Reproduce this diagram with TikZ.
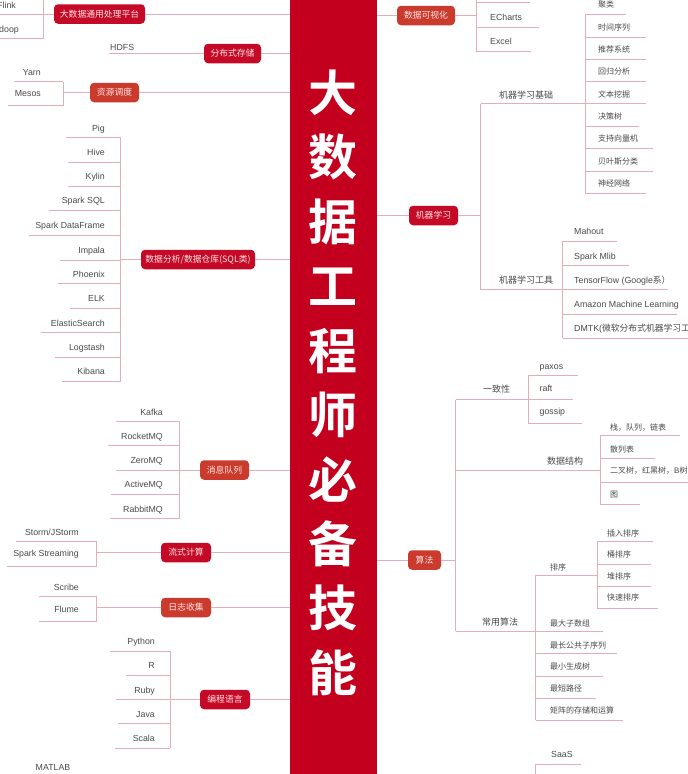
\documentclass[tikz,border=0pt]{standalone}
\usepackage{fontspec}
\setmainfont{Liberation Sans}
\newfontfamily\cjk{Noto Sans CJK SC}
\newfontfamily\cjkb{Noto Sans CJK SC Bold}
\definecolor{barred}{HTML}{C4001F}
\definecolor{hubred}{HTML}{C40A26}
\definecolor{hubsoft}{HTML}{CA3B2E}
\definecolor{wirec}{HTML}{E3AEB8}
\definecolor{txt}{HTML}{4A4A4A}
\tikzset{
  wire/.style={draw=wirec,line width=1pt},
  hubbase/.style={rounded corners=4pt,text=white!90!red,inner sep=0pt,minimum height=19.5pt,font=\cjk\fontsize{8.8}{10}\selectfont,anchor=center},
  hubd/.style={hubbase,fill=hubred},
  hubs/.style={hubbase,fill=hubsoft},
  lab/.style={text=txt,inner sep=0pt,text height=8pt,text depth=1.5pt,font=\fontsize{8.8}{10}\selectfont},
  small/.style={lab,font=\cjk\fontsize{8}{10}\selectfont},
  mid/.style={lab,font=\cjk\fontsize{9}{10}\selectfont},
  ttl/.style={text=white,inner sep=0pt,font=\cjkb\fontsize{49}{52}\selectfont}
}
% name, label style, anchor, text x, text y, text, free end x, line y, spine x
\newcommand\leafnode[9]{%
  \node[#2,anchor=#3] (#1) at (#4,#5) {#6};
  \coordinate (#1-a) at (#7,#8);
  \coordinate (#1-b) at (#9,#8);
  \draw[wire] (#1-a) -- (#1-b);
}
\newcommand\hubnode[5]{% name, style, cx, cy, width + text
  \node[#2,minimum width=#4pt] (#1) at (#3) {#5};
}
\begin{document}
\begin{tikzpicture}[x=1pt,y=-1pt]
\useasboundingbox (0,0) rectangle (688,774);
\clip (0,0) rectangle (688,774);
\fill[white] (0,0) rectangle (688,774);
\fill[barred] (290,0) rectangle (376.5,774);
\coordinate (barL) at (290,0);
\coordinate (barR) at (376.5,0);

\foreach \c/\y/\n in {大/93/t1,数/157/t2,据/222/t3,工/286.5/t4,程/351/t5,师/415/t6,必/479.5/t7,备/543.5/t8,技/608/t9,能/673/t10}
  \node[ttl] (\n) at (333.2,\y) {\c};

% ---- hubs
\hubnode{hA}{hubd}{99.5,14}{91}{大数据通用处理平台}
\hubnode{hB}{hubd}{232.5,53.5}{57}{分布式存储}
\hubnode{hC}{hubs}{114.5,92.5}{49}{资源调度}
\hubnode{hD}{hubd}{198,259.5}{114}{数据分析/数据仓库(SQL类)}
\hubnode{hE}{hubs}{224.5,470}{49}{消息队列}
\hubnode{hF}{hubd}{186,552.5}{50}{流式计算}
\hubnode{hG}{hubs}{186,607.5}{50}{日志收集}
\hubnode{hH}{hubd}{225,699.5}{50}{编程语言}
\hubnode{hI}{hubs}{426,15.5}{58}{数据可视化}
\hubnode{hJ}{hubd}{433.5,215.5}{49}{机器学习}
\hubnode{hK}{hubs}{424.5,560}{33}{算法}

% ---- hub to bar
\foreach \h in {hA,hB,hC,hD,hE,hF,hG,hH}
  \draw[wire] (\h.east) -- (barL |- \h.east);
\foreach \h in {hI,hJ,hK}
  \draw[wire] (\h.west) -- (barR |- \h.west);

% ---- top left
\coordinate (sA1) at (43.5,0); \coordinate (sA2) at (43.5,38.5);
\draw[wire] (sA1) -- (sA2);
\leafnode{flink}{lab}{east}{16}{5}{Flink}{0}{14}{43.5}
\leafnode{hadoop}{lab}{east}{19}{29}{doop}{0}{38.5}{43.5}
\draw[wire] (sA1 |- hA.west) -- (hA.west);

% ---- HDFS
\node[lab,anchor=west] (hdfs) at (110,47) {HDFS};
\coordinate (hdfs-a) at (109,53.5);
\draw[wire] (hdfs-a) -- (hB.west);

% ---- Yarn
\coordinate (sC1) at (63,81.5); \coordinate (sC2) at (63,105.5);
\draw[wire] (sC1) -- (sC2);
\leafnode{yarn}{lab}{east}{41}{72}{Yarn}{14}{81.5}{63}
\leafnode{mesos}{lab}{east}{41}{93}{Mesos}{8}{105.5}{63}
\draw[wire] (sC1 |- hC.west) -- (hC.west);

% ---- SQL
\coordinate (sD1) at (120.5,137); \coordinate (sD2) at (120.5,381);
\draw[wire] (sD1) -- (sD2);
\leafnode{d1}{lab}{east}{105}{128}{Pig}{66}{137}{120.5}
\leafnode{d2}{lab}{east}{105}{152}{Hive}{68}{162}{120.5}
\leafnode{d3}{lab}{east}{105}{176.5}{Kylin}{68}{186}{120.5}
\leafnode{d4}{lab}{east}{105}{200.5}{Spark SQL}{49}{210.5}{120.5}
\leafnode{d5}{lab}{east}{105}{225}{Spark DataFrame}{29}{235}{120.5}
\leafnode{d6}{lab}{east}{105}{250}{Impala}{60}{260}{120.5}
\leafnode{d7}{lab}{east}{105}{274}{Phoenix}{58}{283.5}{120.5}
\leafnode{d8}{lab}{east}{105}{298}{ELK}{70}{308}{120.5}
\leafnode{d9}{lab}{east}{105}{323}{ElasticSearch}{41}{332}{120.5}
\leafnode{d10}{lab}{east}{105}{347}{Logstash}{55}{357}{120.5}
\leafnode{d11}{lab}{east}{105}{371}{Kibana}{62}{381}{120.5}
\draw[wire] (sD1 |- hD.west) -- (hD.west);

% ---- MQ
\coordinate (sE1) at (179,421); \coordinate (sE2) at (179,518.5);
\draw[wire] (sE1) -- (sE2);
\leafnode{e1}{lab}{east}{163}{412}{Kafka}{116}{421}{179}
\leafnode{e2}{lab}{east}{163}{436}{RocketMQ}{108}{445.5}{179}
\leafnode{e3}{lab}{east}{163}{460.5}{ZeroMQ}{116}{470}{179}
\leafnode{e4}{lab}{east}{163}{484.5}{ActiveMQ}{111}{494.5}{179}
\leafnode{e5}{lab}{east}{163}{509}{RabbitMQ}{110}{518.5}{179}
\draw[wire] (sE1 |- hE.west) -- (hE.west);

% ---- Stream
\coordinate (sF1) at (96.5,541.5); \coordinate (sF2) at (96.5,566);
\draw[wire] (sF1) -- (sF2);
\leafnode{f1}{lab}{east}{79}{532}{Storm/JStorm}{16}{541.5}{96.5}
\leafnode{f2}{lab}{east}{79}{553}{Spark Streaming}{7}{566}{96.5}
\draw[wire] (sF1 |- hF.west) -- (hF.west);

% ---- Log
\coordinate (sG1) at (96.5,596.5); \coordinate (sG2) at (96.5,621);
\draw[wire] (sG1) -- (sG2);
\leafnode{g1}{lab}{east}{79}{587}{Scribe}{39}{596.5}{96.5}
\leafnode{g2}{lab}{east}{79}{609}{Flume}{39}{621}{96.5}
\draw[wire] (sG1 |- hG.west) -- (hG.west);

% ---- Lang
\coordinate (sH1) at (170,651); \coordinate (sH2) at (170,748);
\draw[wire] (sH1) -- (sH2);
\leafnode{p1}{lab}{east}{155}{641}{Python}{110}{651}{170}
\leafnode{p2}{lab}{east}{155}{665.5}{R}{126}{675}{170}
\leafnode{p3}{lab}{east}{155}{690}{Ruby}{116}{699.5}{170}
\leafnode{p4}{lab}{east}{155}{714}{Java}{118}{723.5}{170}
\leafnode{p5}{lab}{east}{155}{738.5}{Scala}{115}{748}{170}
\draw[wire] (sH1 |- hH.west) -- (hH.west);

\node[lab,anchor=center] (matlab) at (53,767) {MATLAB};

% ---- Data viz
\coordinate (sI1) at (476.5,0); \coordinate (sI2) at (476.5,51.5);
\draw[wire] (sI1) -- (sI2);
\coordinate (v0-a) at (530,2.5); \coordinate (v0-b) at (476.5,2.5);
\draw[wire] (v0-a) -- (v0-b);
\leafnode{v1}{lab}{west}{490}{17}{ECharts}{539}{27.5}{476.5}
\leafnode{v2}{lab}{west}{490}{41.5}{Excel}{531}{51.5}{476.5}
\draw[wire] (hI.east) -- (sI1 |- hI.east);

% ---- ML
\coordinate (sJ1) at (480.5,103.5); \coordinate (sJ2) at (480.5,289.5);
\draw[wire] (sJ1) -- (sJ2);
\draw[wire] (hJ.east) -- (sJ1 |- hJ.east);
\node[mid,anchor=west] (ml1) at (499,95) {机器学习基础};
\node[mid,anchor=west] (ml2) at (499,280.5) {机器学习工具};
\coordinate (sK1) at (585,14.5); \coordinate (sK2) at (585,193);
\draw[wire] (sK1) -- (sK2);
\draw[wire] (sJ1) -- (sK1 |- sJ1);
\leafnode{m1}{small}{west}{598}{4}{聚类}{626}{14.5}{585}
\leafnode{m2}{small}{west}{598}{27}{时间序列}{646}{37}{585}
\leafnode{m3}{small}{west}{598}{49}{推荐系统}{646}{59}{585}
\leafnode{m4}{small}{west}{598}{71}{回归分析}{646}{81}{585}
\leafnode{m5}{small}{west}{598}{94}{文本挖掘}{646}{103.5}{585}
\leafnode{m6}{small}{west}{598}{116}{决策树}{639}{126.5}{585}
\leafnode{m7}{small}{west}{598}{138.5}{支持向量机}{653}{148.5}{585}
\leafnode{m8}{small}{west}{598}{161}{贝叶斯分类}{653}{171}{585}
\leafnode{m9}{small}{west}{598}{183}{神经网络}{646}{193}{585}
\coordinate (sL1) at (562.5,241); \coordinate (sL2) at (562.5,338);
\draw[wire] (sL1) -- (sL2);
\draw[wire] (sJ2) -- (sL1 |- sJ2);
\leafnode{t1x}{lab}{west}{574}{231}{Mahout}{617}{241}{562.5}
\leafnode{t2x}{lab}{west}{574}{256}{Spark Mlib}{629}{265}{562.5}
\leafnode{t3x}{lab}{west}{574}{280}{TensorFlow (Google{\cjk 系）}}{668}{289.5}{562.5}
\leafnode{t4x}{lab}{west}{574}{304}{Amazon Machine Learning}{677}{314}{562.5}
\leafnode{t5x}{lab}{west}{574}{328}{DMTK({\cjk 微软分布式机器学习工}}{688}{338}{562.5}

% ---- Algo
\coordinate (sN1) at (455.5,399.5); \coordinate (sN2) at (455.5,631);
\draw[wire] (sN1) -- (sN2);
\draw[wire] (hK.east) -- (sN1 |- hK.east);
\node[mid,anchor=west] (a1) at (483,389) {一致性};
\node[mid,anchor=west] (a2) at (547,461) {数据结构};
\node[mid,anchor=west] (a3) at (482,622) {常用算法};
\coordinate (sO1) at (528.5,375); \coordinate (sO2) at (528.5,423.5);
\draw[wire] (sO1) -- (sO2);
\draw[wire] (sN1) -- (sO1 |- sN1);
\leafnode{o1}{lab}{west}{539.5}{366}{paxos}{578}{375}{528.5}
\leafnode{o2}{lab}{west}{539.5}{388.5}{raft}{573}{399.5}{528.5}
\leafnode{o3}{lab}{west}{539.5}{411}{gossip}{582}{423.5}{528.5}
\coordinate (sQ1) at (600.5,435); \coordinate (sQ2) at (600.5,504.5);
\draw[wire] (sQ1) -- (sQ2);
\coordinate (bQ) at (455.5,470);
\draw[wire] (bQ) -- (sQ1 |- bQ);
\leafnode{q1}{small}{west}{610}{427}{栈，队列，链表}{680}{435}{600.5}
\leafnode{q2}{small}{west}{610}{449}{散列表}{654.5}{458}{600.5}
\leafnode{q3}{small}{west}{610}{470}{二叉树，红黑树，{\fontspec{Liberation Sans}B}树}{688}{482}{600.5}
\leafnode{q4}{small}{west}{610}{494}{图}{640}{504.5}{600.5}
\coordinate (sR1) at (535.5,575); \coordinate (sR2) at (535.5,720);
\draw[wire] (sR1) -- (sR2);
\draw[wire] (sN2) -- (sR1 |- sN2);
\node[small,anchor=west] (r0) at (550,567) {排序};
\leafnode{r1}{small}{west}{550}{623}{最大子数组}{603}{631}{535.5}
\leafnode{r2}{small}{west}{550}{645}{最长公共子序列}{617}{653.5}{535.5}
\leafnode{r3}{small}{west}{550}{666.5}{最小生成树}{603}{676}{535.5}
\leafnode{r4}{small}{west}{550}{688}{最短路径}{596}{698}{535.5}
\leafnode{r5}{small}{west}{550}{710}{矩阵的存储和运算}{623}{720}{535.5}
\coordinate (sS1) at (597,541.5); \coordinate (sS2) at (597,608.5);
\draw[wire] (sS1) -- (sS2);
\draw[wire] (sR1) -- (sS1 |- sR1);
\leafnode{s1}{small}{west}{607}{533}{插入排序}{653}{541.5}{597}
\leafnode{s2}{small}{west}{607}{554.5}{桶排序}{651}{564.5}{597}
\leafnode{s3}{small}{west}{607}{576}{堆排序}{651}{586.5}{597}
\leafnode{s4}{small}{west}{607}{597.5}{快速排序}{658}{608.5}{597}

% ---- SaaS
\coordinate (sT1) at (535.5,764); \coordinate (sT2) at (535.5,774);
\draw[wire] (sT1) -- (sT2);
\leafnode{u1}{lab}{west}{551}{754}{SaaS}{581}{764}{535.5}
\end{tikzpicture}
\end{document}
